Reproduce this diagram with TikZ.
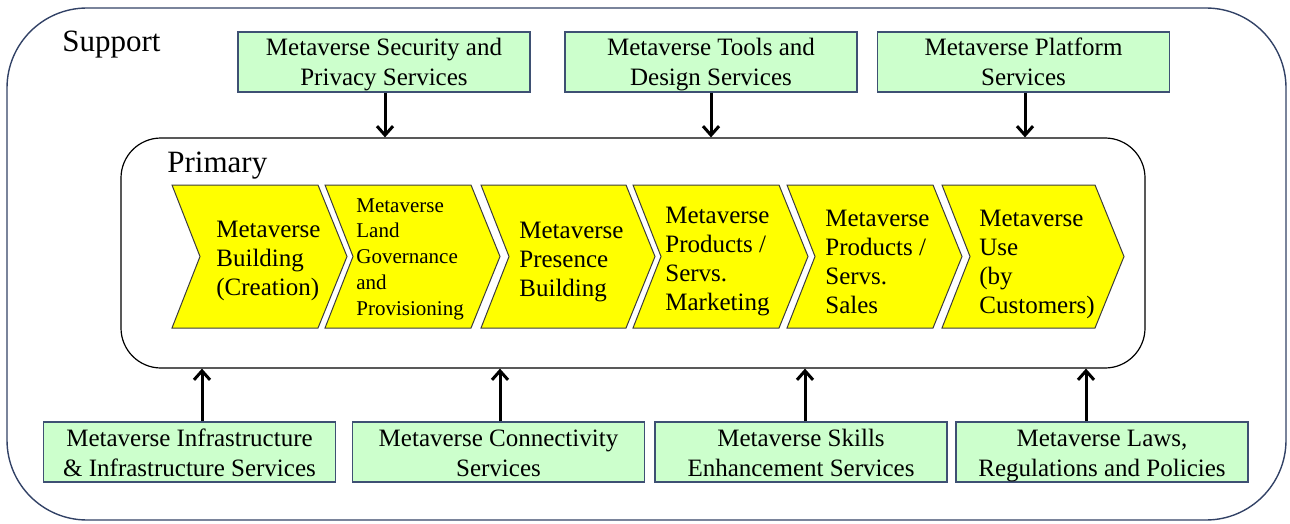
\documentclass[tikz,border=0pt]{standalone}
\usepackage{fontspec}
\setmainfont{Liberation Serif}
\newfontfamily\tnr{Liberation Serif}
\usetikzlibrary{arrows.meta,calc}
\definecolor{boxgreen}{HTML}{CCFFCC}
\definecolor{boxedge}{RGB}{62,80,115}
\definecolor{outeredge}{RGB}{50,66,102}
\definecolor{chevyellow}{HTML}{FFFF00}
\definecolor{chevedge}{RGB}{60,60,60}
\newcommand{\two}[2]{\rule{0pt}{12pt}#1\\#2\rule[-3pt]{0pt}{3pt}}
\tikzset{
  svcbox/.style={draw=boxedge, line width=0.6pt, fill=boxgreen, minimum width=146pt, minimum height=30pt,
    align=center, inner sep=0pt, font=\tnr\fontsize{12.5}{15}\selectfont},
  chevtext/.style={anchor=west, align=left, inner sep=0pt, font=\tnr\fontsize{12.5}{14.5}\selectfont},
  chevsmall/.style={anchor=west, align=left, inner sep=0pt, font=\tnr\fontsize{10.5}{12.9}\selectfont},
  chevfill/.style={fill=chevyellow, draw=chevedge, line width=0.5pt, line join=miter},
  arr/.style={line width=1.5pt, -{Straight Barb[length=4.5pt,width=8pt]}},
  biglabel/.style={anchor=base west, inner sep=0pt, font=\tnr\fontsize{15.5}{18}\selectfont}
}
\begin{document}
\begin{tikzpicture}[x=0.5pt,y=-0.5pt]
\useasboundingbox (0,0) rectangle (1290,524);
% outer support frame
\node[draw=outeredge, line width=0.7pt, rounded corners=40pt, minimum width=639.5pt, minimum height=256pt, inner sep=0pt]
  (support) at (646.5,264) {};
\node[biglabel] (supportlbl) at (62,52) {Support};
% primary frame
\node[draw=black, line width=0.6pt, rounded corners=20pt, minimum width=512pt, minimum height=115pt, inner sep=0pt]
  (primary) at (633,253) {};
\node[biglabel] (primarylbl) at (167,172) {Primary};
% chevrons
\foreach \x/\w in {172/146, 325/146, 481/145, 633/146, 787/146, 942/153}{
  \path[chevfill] (\x,185) -- ++(\w,0) -- ++(29,71.5) -- ++(-29,71.5) -- ++(-\w,0) -- ++(28,-71.5) -- cycle;
}
\node[chevtext] (c1) at (216,261) {Metaverse\\Building\\(Creation)};
\node[chevsmall] (c2) at (356,259) {Metaverse\\Land\\Governance\\and\\Provisioning};
\node[chevtext] (c3) at (519,262) {Metaverse\\Presence\\Building};
\node[chevtext] (c4) at (665,262) {Metaverse\\Products /\\Servs.\\Marketing};
\node[chevtext] (c5) at (825,262) {Metaverse\\Products /\\Servs.\\Sales};
\node[chevtext] (c6) at (979,264) {Metaverse\\Use\\(by\\Customers)};
% top services
\node[svcbox] (t1) at (384,62) {\two{Metaverse Security and}{Privacy Services}};
\node[svcbox] (t2) at (711,62) {\two{Metaverse Tools and}{Design Services}};
\node[svcbox] (t3) at (1023.5,62) {\two{Metaverse Platform}{Services}};
% bottom services
\node[svcbox] (b1) at (189.5,452) {\two{Metaverse Infrastructure}{\& Infrastructure Services}};
\node[svcbox] (b2) at (498.5,452) {\two{Metaverse Connectivity}{Services}};
\node[svcbox] (b3) at (801,452) {\two{Metaverse Skills}{Enhancement Services}};
\node[svcbox] (b4) at (1102,452) {\two{Metaverse Laws,}{Regulations and Policies}};
% arrows
\draw[arr] ([xshift=0.5pt]t1.south) -- ([xshift=0.5pt]t1.south |- primary.north);
\draw[arr] (t2.south) -- (t2.south |- primary.north);
\draw[arr] ([xshift=0.75pt]t3.south) -- ([xshift=0.75pt]t3.south |- primary.north);
\draw[arr] ([xshift=6.25pt]b1.north) -- ([xshift=6.25pt]b1.north |- primary.south);
\draw[arr] ([xshift=0.75pt]b2.north) -- ([xshift=0.75pt]b2.north |- primary.south);
\draw[arr] ([xshift=2pt]b3.north) -- ([xshift=2pt]b3.north |- primary.south);
\draw[arr] ([xshift=-8pt]b4.north) -- ([xshift=-8pt]b4.north |- primary.south);
\end{tikzpicture}
\end{document}
